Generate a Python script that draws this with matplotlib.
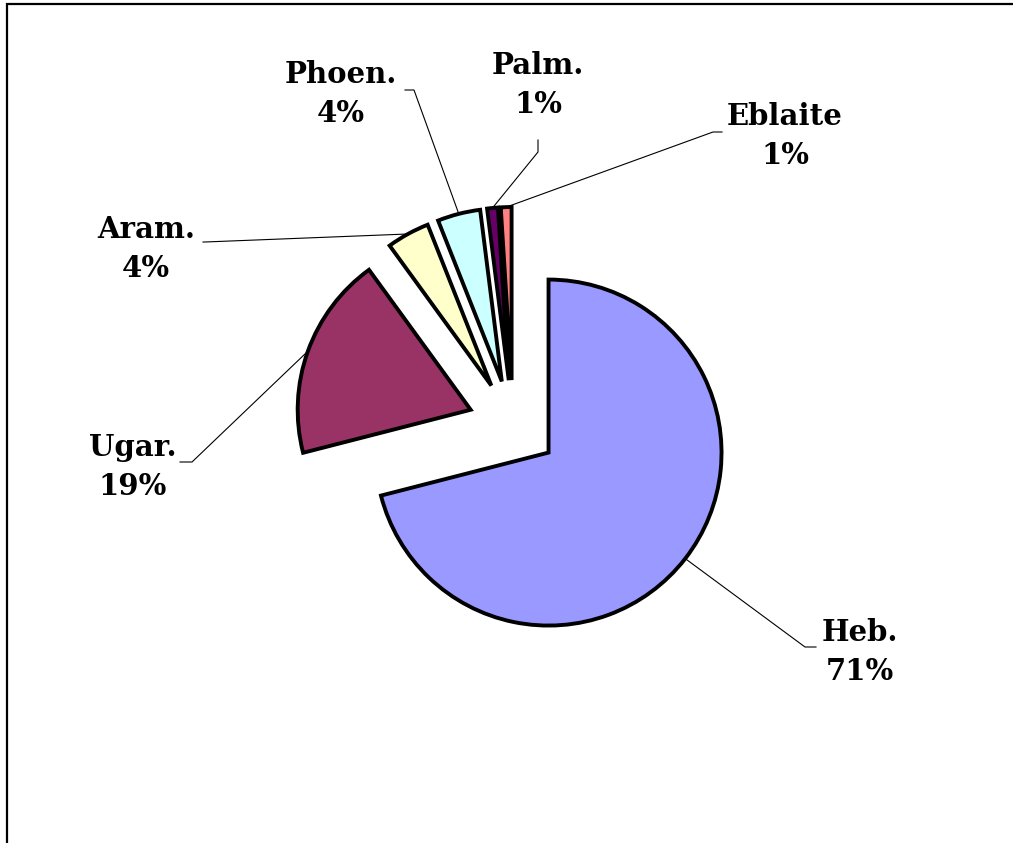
import matplotlib
matplotlib.use("Agg")
import matplotlib.pyplot as plt
import numpy as np
from matplotlib.patches import Rectangle

# language shares
names = ["Heb.", "Ugar.", "Aram.", "Phoen.", "Palm.", "Eblaite"]
shares = [71, 19, 4, 4, 1, 1]
colors = ["#9999FF", "#993366", "#FFFFCC", "#CCFFFF", "#660066", "#FF8080"]

W, H = 1013, 843
cx, cy, R = 513, 425, 173  # pie centre and radius in pixels


def px(x, y):
    # pixel position -> data units (radius = 1)
    return (x - cx) / R, (cy - y) / R


fig = plt.figure(figsize=(W / 100, H / 100), dpi=100)
ax = fig.add_axes([0, 0, 1, 1])

explode = 0.26
wedges, _ = ax.pie(shares, colors=colors, startangle=90, counterclock=False,
                   explode=[explode] * len(shares), radius=1,
                   wedgeprops=dict(edgecolor="black", linewidth=2.8))

ax.set_aspect("auto")
ax.set_xlim(-cx / R, (W - cx) / R)
ax.set_ylim(-(H - cy) / R, cy / R)
ax.axis("off")

# label text centre, elbow and end of each leader line (pixels)
label_pos = [(860, 652), (133, 467), (146, 249), (341, 94), (538, 85), (785, 136)]
elbows = [(805, 647), (192, 462), (205, 242), (414, 90), (538, 152), (713, 132)]
ends = [(816, 647), (180, 462), (203, 242), (405, 90), (538, 140), (722, 132)]

for w, name, val, lp, el, en in zip(wedges, names, shares, label_pos, elbows, ends):
    mid = np.deg2rad((w.theta1 + w.theta2) / 2)
    r0 = 1 + explode
    sx, sy = r0 * np.cos(mid), r0 * np.sin(mid)
    ex, ey = px(*el)
    nx, ny = px(*en)
    ax.plot([sx, ex, nx], [sy, ey, ny], color="black", linewidth=0.8)
    tx, ty = px(*lp)
    ax.text(tx, ty, f"{name}\n{val}%", ha="center", va="center",
            multialignment="center", fontsize=21, fontweight="bold",
            family="DejaVu Serif", linespacing=1.45)

# outer frame
fig.add_artist(Rectangle((7 / W, -0.05), 1.2, 1.05 - 4 / H, transform=fig.transFigure,
                         fill=False, edgecolor="black", linewidth=1.6))

fig.savefig("out.png", dpi=100)
